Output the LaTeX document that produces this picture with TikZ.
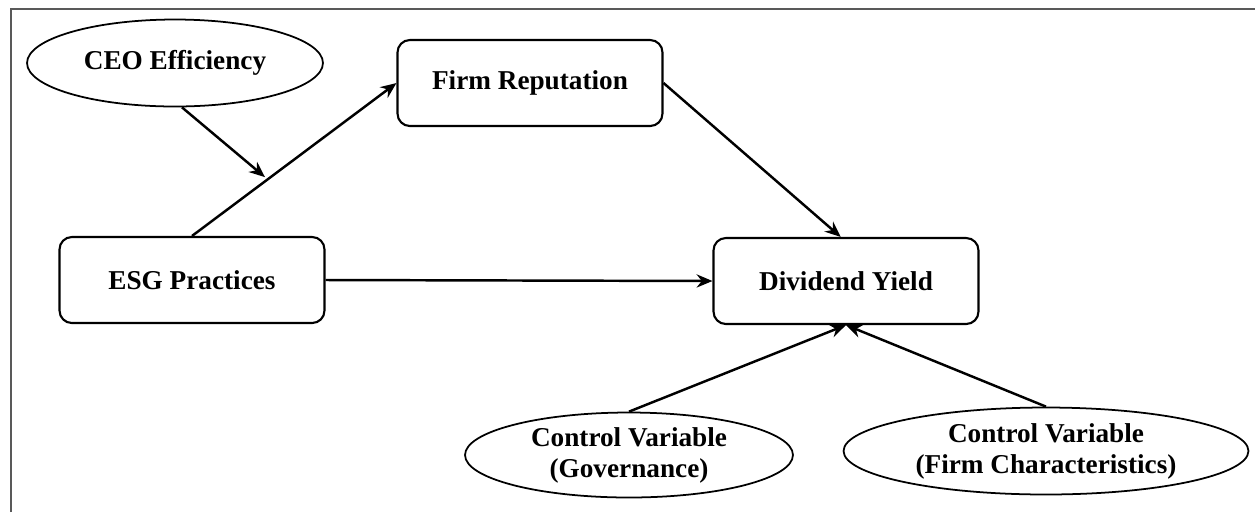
\documentclass[tikz,border=0pt]{standalone}
\usepackage{fontspec}
\setmainfont{Liberation Serif}
\usetikzlibrary{arrows.meta, positioning, shapes.geometric, calc}

\begin{document}
\begin{tikzpicture}[
    x=0.02cm, y=-0.02cm,
    every node/.style={font=\fontsize{15.5}{17.6}\selectfont\bfseries},
    box/.style={rounded corners=7pt, draw, line width=1.2pt, fill=white, minimum width=5.3cm, minimum height=1.72cm, align=center, inner sep=0pt},
    oval/.style={ellipse, draw, line width=1pt, fill=white, align=center, inner sep=0pt},
    a/.style={-{Stealth[length=9pt, width=7.5pt]}, line width=1.4pt}
]
\useasboundingbox (0,0) rectangle (1255,512);
% frame
\draw[line width=1pt, black!65] (11,512) -- (11,9) -- (1255,9);
% model
\node[oval, minimum width=5.92cm, minimum height=1.74cm] (ceo) at (175,63) {CEO Efficiency};
\node[box] (rep) at (530,83)  {Firm Reputation};
\node[box] (esg) at (192,280) {ESG Practices};
\node[box] (div) at (846,281) {Dividend Yield};
\draw[a] (esg.north) -- (rep.west);
\coordinate (mod) at ($(esg.north)!0.37!(rep.west)$);
\draw[a, shorten >=2pt] (ceo.south) ++(7,0) -- (mod);
\draw[a] (rep.east) -- ([xshift=-3pt]div.north);
\draw[a] (esg.east) -- (div.west);
% controls
\node[oval, minimum width=6.56cm, minimum height=1.7cm] (gov) at (629,455) {Control Variable\\(Governance)};
\node[oval, minimum width=8.1cm, minimum height=1.74cm] (chr) at (1046,451) {Control Variable\\(Firm Characteristics)};
\draw[a] (gov.north) -- (div.south);
\draw[a] (chr.north) -- (div.south);
\end{tikzpicture}
\end{document}
